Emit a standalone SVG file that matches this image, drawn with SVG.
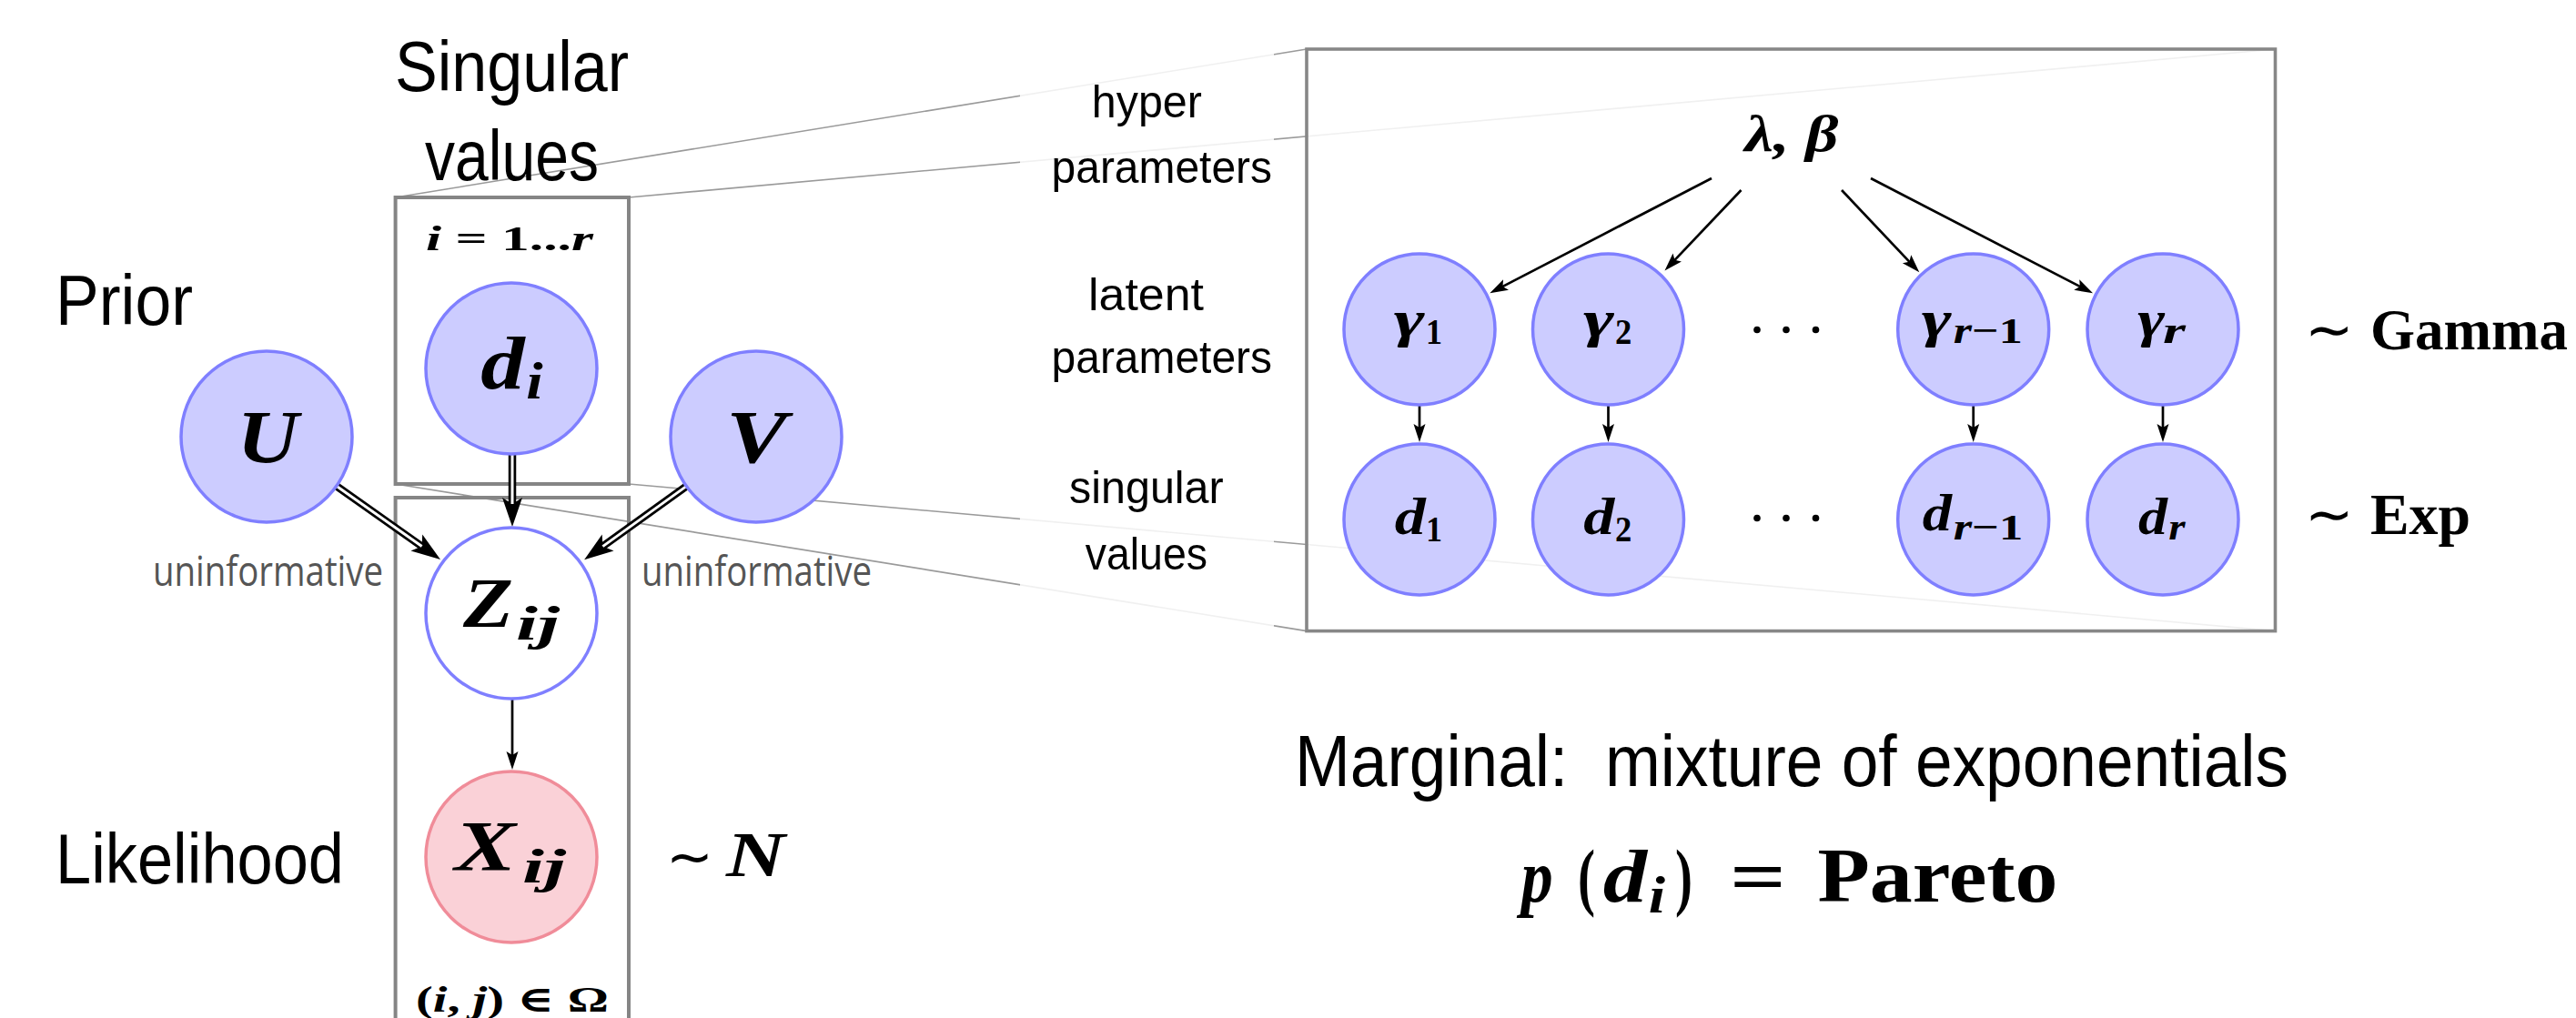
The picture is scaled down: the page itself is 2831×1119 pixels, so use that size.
<svg xmlns="http://www.w3.org/2000/svg" width="2831" height="1119" viewBox="0 0 2831 1119">
<defs>
<style>
.sans{font-family:"Liberation Sans",Arial,sans-serif;fill:#000}
.big{font-size:78px}
.lbl{font-size:50px}
.unin{font-family:"Open Sans","Liberation Sans",sans-serif;font-size:46px;fill:#555}
.m{font-family:"Liberation Serif","DejaVu Serif",serif;font-style:italic;font-weight:bold;fill:#000}
.r{font-family:"Liberation Serif","DejaVu Serif",serif;font-style:normal;font-weight:bold;fill:#000}
.tl{font-family:"DejaVu Sans",sans-serif;font-style:normal;font-weight:normal;fill:#000}
.node{fill:#ccccff;stroke:#7f7fff;stroke-width:3.5}
.obs{fill:#fad1d7;stroke:#f08c99;stroke-width:3.5}
.lat{fill:#fff;stroke:#7f7fff;stroke-width:3.5}
.plate{fill:none;stroke:#858585;stroke-width:4}
.zl{stroke:#9a9a9a;stroke-width:1.6;fill:none}
.veil{fill:#fff;fill-opacity:0.85;stroke:none}
.thin{stroke:#000;stroke-width:2.7;fill:none}
.dblk{stroke:#000;stroke-width:8.5;fill:none}
.dwht{stroke:#fff;stroke-width:3;fill:none}
</style>
<marker id="ah" markerUnits="userSpaceOnUse" markerWidth="24" markerHeight="16" viewBox="-2 -8 24 16" refX="4" refY="0" orient="auto">
<path d="M-1,-6.5 L19,0 L-1,6.5 L3,0 Z" fill="#000"/>
</marker>
<marker id="dh" markerUnits="userSpaceOnUse" markerWidth="36" markerHeight="26" viewBox="-3 -13 36 26" refX="6" refY="0" orient="auto">
<path d="M-2,-11 L30,0 L-2,11 L5,0 Z" fill="#000"/>
</marker>
</defs>
<rect x="0" y="0" width="2831" height="1119" fill="#fff"/>

<g id="zoom-lines">
<line class="zl" x1="434.6" y1="217" x2="1436" y2="54"/>
<line class="zl" x1="691" y1="217" x2="2500.5" y2="54"/>
<line class="zl" x1="434.6" y1="532" x2="1436" y2="693.6"/>
<line class="zl" x1="691" y1="532" x2="2500.5" y2="693.6"/>
<rect class="veil" x="1121" y="48" width="279" height="180"/>
<rect class="veil" x="1121" y="515" width="279" height="185"/>
</g>

<g id="zoom-box">
<rect x="1436" y="54" width="1064.5" height="639.6" fill="#fff" fill-opacity="0.85" stroke="#878787" stroke-width="3.6"/>
</g>

<g id="plate-singular">
<rect class="plate" x="434.6" y="217" width="256.4" height="315"/>
<text class="m" x="468" y="275" font-size="38" textLength="184" lengthAdjust="spacingAndGlyphs">i<tspan class="r"> = 1...</tspan>r</text>
</g>
<g id="plate-observed">
<rect class="plate" x="434.6" y="547" width="256.4" height="620"/>
<text class="r" x="457" y="1112" font-size="40" textLength="212" lengthAdjust="spacingAndGlyphs">(<tspan class="m">i</tspan>, <tspan class="m">j</tspan>) ∈ Ω</text>
</g>

<g id="labels">
<text class="sans big" x="434" y="100" textLength="257" lengthAdjust="spacingAndGlyphs">Singular</text>
<text class="sans big" x="467" y="198" textLength="191" lengthAdjust="spacingAndGlyphs">values</text>
<text class="sans big" x="61" y="357" textLength="151" lengthAdjust="spacingAndGlyphs">Prior</text>
<text class="sans big" x="61" y="970.5" textLength="317" lengthAdjust="spacingAndGlyphs">Likelihood</text>
<text class="unin" x="168" y="644" textLength="253" lengthAdjust="spacingAndGlyphs">uninformative</text>
<text class="unin" x="705" y="644" textLength="253" lengthAdjust="spacingAndGlyphs">uninformative</text>
<text class="tl" x="732" y="963" font-size="62">∼</text>
<text class="m" x="798" y="963" font-size="70" textLength="65" lengthAdjust="spacingAndGlyphs">N</text>
<text class="sans lbl" x="1199.8" y="128.5" textLength="121" lengthAdjust="spacingAndGlyphs">hyper</text>
<text class="sans lbl" x="1155.6" y="201" textLength="242.4" lengthAdjust="spacingAndGlyphs">parameters</text>
<text class="sans lbl" x="1196" y="341" textLength="127" lengthAdjust="spacingAndGlyphs">latent</text>
<text class="sans lbl" x="1155.6" y="410" textLength="242.4" lengthAdjust="spacingAndGlyphs">parameters</text>
<text class="sans lbl" x="1175" y="553" textLength="169.7" lengthAdjust="spacingAndGlyphs">singular</text>
<text class="sans lbl" x="1192.7" y="626" textLength="134.3" lengthAdjust="spacingAndGlyphs">values</text>
<text class="tl" x="2533" y="384" font-size="64">∼</text>
<text class="r" x="2605" y="384" font-size="63" textLength="217" lengthAdjust="spacingAndGlyphs">Gamma</text>
<text class="tl" x="2533" y="587" font-size="64">∼</text>
<text class="r" x="2605" y="587" font-size="63" textLength="110" lengthAdjust="spacingAndGlyphs">Exp</text>
<text class="sans" x="1423" y="863.5" font-size="79" textLength="1092" lengthAdjust="spacingAndGlyphs">Marginal:&#160; mixture of exponentials</text>
<text class="m" x="1671.7" y="991" font-size="82" textLength="35" lengthAdjust="spacingAndGlyphs">p</text>
<text class="r" x="1734" y="991" font-size="82" font-weight="normal" textLength="19" lengthAdjust="spacingAndGlyphs">(</text>
<text class="m" x="1761.7" y="991" font-size="82" textLength="48.3" lengthAdjust="spacingAndGlyphs">d</text>
<text class="m" x="1811.7" y="1003.3" font-size="57" textLength="18.3" lengthAdjust="spacingAndGlyphs">i</text>
<text class="r" x="1841" y="991" font-size="82" font-weight="normal" textLength="19" lengthAdjust="spacingAndGlyphs">)</text>
<text class="r" x="1901" y="991" font-size="82" font-weight="normal" textLength="62" lengthAdjust="spacingAndGlyphs">=</text>
<text class="r" x="1997.5" y="990.5" font-size="84" textLength="264" lengthAdjust="spacingAndGlyphs">Pareto</text>
<text class="m" x="1917.5" y="165.6" font-size="56" textLength="103" lengthAdjust="spacingAndGlyphs">λ, β</text>
<g id="dots" fill="#000">
<circle cx="1931" cy="362.5" r="3.8"/><circle cx="1963" cy="362.5" r="3.8"/><circle cx="1995.5" cy="362.5" r="3.8"/>
<circle cx="1931" cy="569.5" r="3.8"/><circle cx="1963" cy="569.5" r="3.8"/><circle cx="1995.5" cy="569.5" r="3.8"/>
</g>
</g>

<g id="connectors">
<line class="dblk" x1="563" y1="490" x2="563" y2="555" marker-end="url(#dh)"/>
<line class="dwht" x1="563" y1="490" x2="563" y2="554"/>
<line class="dblk" x1="354.2" y1="523.3" x2="464.4" y2="601.15" marker-end="url(#dh)"/>
<line class="dwht" x1="354.2" y1="523.3" x2="463.6" y2="600.6"/>
<line class="dblk" x1="769.8" y1="523.3" x2="661.6" y2="601.15" marker-end="url(#dh)"/>
<line class="dwht" x1="769.8" y1="523.3" x2="662.4" y2="600.6"/>
<line class="thin" x1="563" y1="765" x2="563" y2="831" marker-end="url(#ah)"/>
<line class="thin" x1="1560" y1="440" x2="1560" y2="471" marker-end="url(#ah)"/>
<line class="thin" x1="1767.5" y1="440" x2="1767.5" y2="471" marker-end="url(#ah)"/>
<line class="thin" x1="2168.7" y1="440" x2="2168.7" y2="471" marker-end="url(#ah)"/>
<line class="thin" x1="2377" y1="440" x2="2377" y2="471" marker-end="url(#ah)"/>
<line class="thin" x1="1881" y1="196" x2="1650.6" y2="315.4" marker-end="url(#ah)"/>
<line class="thin" x1="1913.5" y1="209" x2="1839.8" y2="286.6" marker-end="url(#ah)"/>
<line class="thin" x1="2024" y1="209" x2="2099" y2="288.4" marker-end="url(#ah)"/>
<line class="thin" x1="2056" y1="196" x2="2286.7" y2="315.4" marker-end="url(#ah)"/>
</g>

<g id="node-U">
<circle class="node" cx="293" cy="480" r="94"/>
<text class="m" x="260.5" y="508" font-size="83" textLength="67.5" lengthAdjust="spacingAndGlyphs">U</text>
</g>
<g id="node-V">
<circle class="node" cx="831" cy="480" r="94"/>
<text class="m" x="798" y="508" font-size="83" textLength="67" lengthAdjust="spacingAndGlyphs">V</text>
</g>
<g id="node-di">
<circle class="node" cx="562" cy="405" r="94"/>
<text class="m" x="528.3" y="426.7" font-size="82" textLength="48.4" lengthAdjust="spacingAndGlyphs">d</text>
<text class="m" x="578.3" y="438.3" font-size="57" textLength="18.4" lengthAdjust="spacingAndGlyphs">i</text>
</g>
<g id="node-Z">
<circle class="lat" cx="562" cy="674" r="94"/>
<text class="m" x="509" y="689" font-size="78" textLength="55" lengthAdjust="spacingAndGlyphs">Z</text>
<text class="m" x="567" y="703" font-size="52" textLength="48" lengthAdjust="spacingAndGlyphs">ij</text>
</g>
<g id="node-X">
<circle class="obs" cx="562" cy="942" r="94"/>
<text class="m" x="499.5" y="956" font-size="78" textLength="67.5" lengthAdjust="spacingAndGlyphs">X</text>
<text class="m" x="574" y="970" font-size="52" textLength="48" lengthAdjust="spacingAndGlyphs">ij</text>
</g>

<g id="node-g1">
<circle class="node" cx="1560" cy="362" r="83"/>
<text class="m" x="1531.7" y="370" font-size="58" textLength="34" lengthAdjust="spacingAndGlyphs">γ</text>
<text class="r" x="1567" y="378.3" font-size="41" textLength="18" lengthAdjust="spacingAndGlyphs">1</text>
</g>
<g id="node-g2">
<circle class="node" cx="1767.5" cy="362" r="83"/>
<text class="m" x="1740" y="370" font-size="58" textLength="34" lengthAdjust="spacingAndGlyphs">γ</text>
<text class="r" x="1775" y="378.3" font-size="41" textLength="18.3" lengthAdjust="spacingAndGlyphs">2</text>
</g>
<g id="node-grm1">
<circle class="node" cx="2168.7" cy="362" r="83"/>
<text class="m" x="2111.7" y="370" font-size="58" textLength="33" lengthAdjust="spacingAndGlyphs">γ</text>
<text class="m" x="2146.7" y="376.7" font-size="41" textLength="76" lengthAdjust="spacingAndGlyphs">r<tspan class="r">−1</tspan></text>
</g>
<g id="node-gr">
<circle class="node" cx="2377" cy="362" r="83"/>
<text class="m" x="2349.3" y="370" font-size="58" textLength="30" lengthAdjust="spacingAndGlyphs">γ</text>
<text class="m" x="2377" y="376.7" font-size="41" textLength="25" lengthAdjust="spacingAndGlyphs">r</text>
</g>
<g id="node-d1">
<circle class="node" cx="1560" cy="571" r="83"/>
<text class="m" x="1532.7" y="586.7" font-size="57" textLength="34" lengthAdjust="spacingAndGlyphs">d</text>
<text class="r" x="1567.3" y="595" font-size="41" textLength="17.7" lengthAdjust="spacingAndGlyphs">1</text>
</g>
<g id="node-d2">
<circle class="node" cx="1767.5" cy="571" r="83"/>
<text class="m" x="1740.2" y="586.7" font-size="57" textLength="34" lengthAdjust="spacingAndGlyphs">d</text>
<text class="r" x="1775" y="595" font-size="41" textLength="18.3" lengthAdjust="spacingAndGlyphs">2</text>
</g>
<g id="node-drm1">
<circle class="node" cx="2168.7" cy="571" r="83"/>
<text class="m" x="2112.7" y="583.3" font-size="57" textLength="32.3" lengthAdjust="spacingAndGlyphs">d</text>
<text class="m" x="2146.7" y="593.3" font-size="41" textLength="76.6" lengthAdjust="spacingAndGlyphs">r<tspan class="r">−1</tspan></text>
</g>
<g id="node-dr">
<circle class="node" cx="2377" cy="571" r="83"/>
<text class="m" x="2350" y="586.7" font-size="57" textLength="32" lengthAdjust="spacingAndGlyphs">d</text>
<text class="m" x="2383.3" y="593.3" font-size="41" textLength="18.4" lengthAdjust="spacingAndGlyphs">r</text>
</g>
</svg>
